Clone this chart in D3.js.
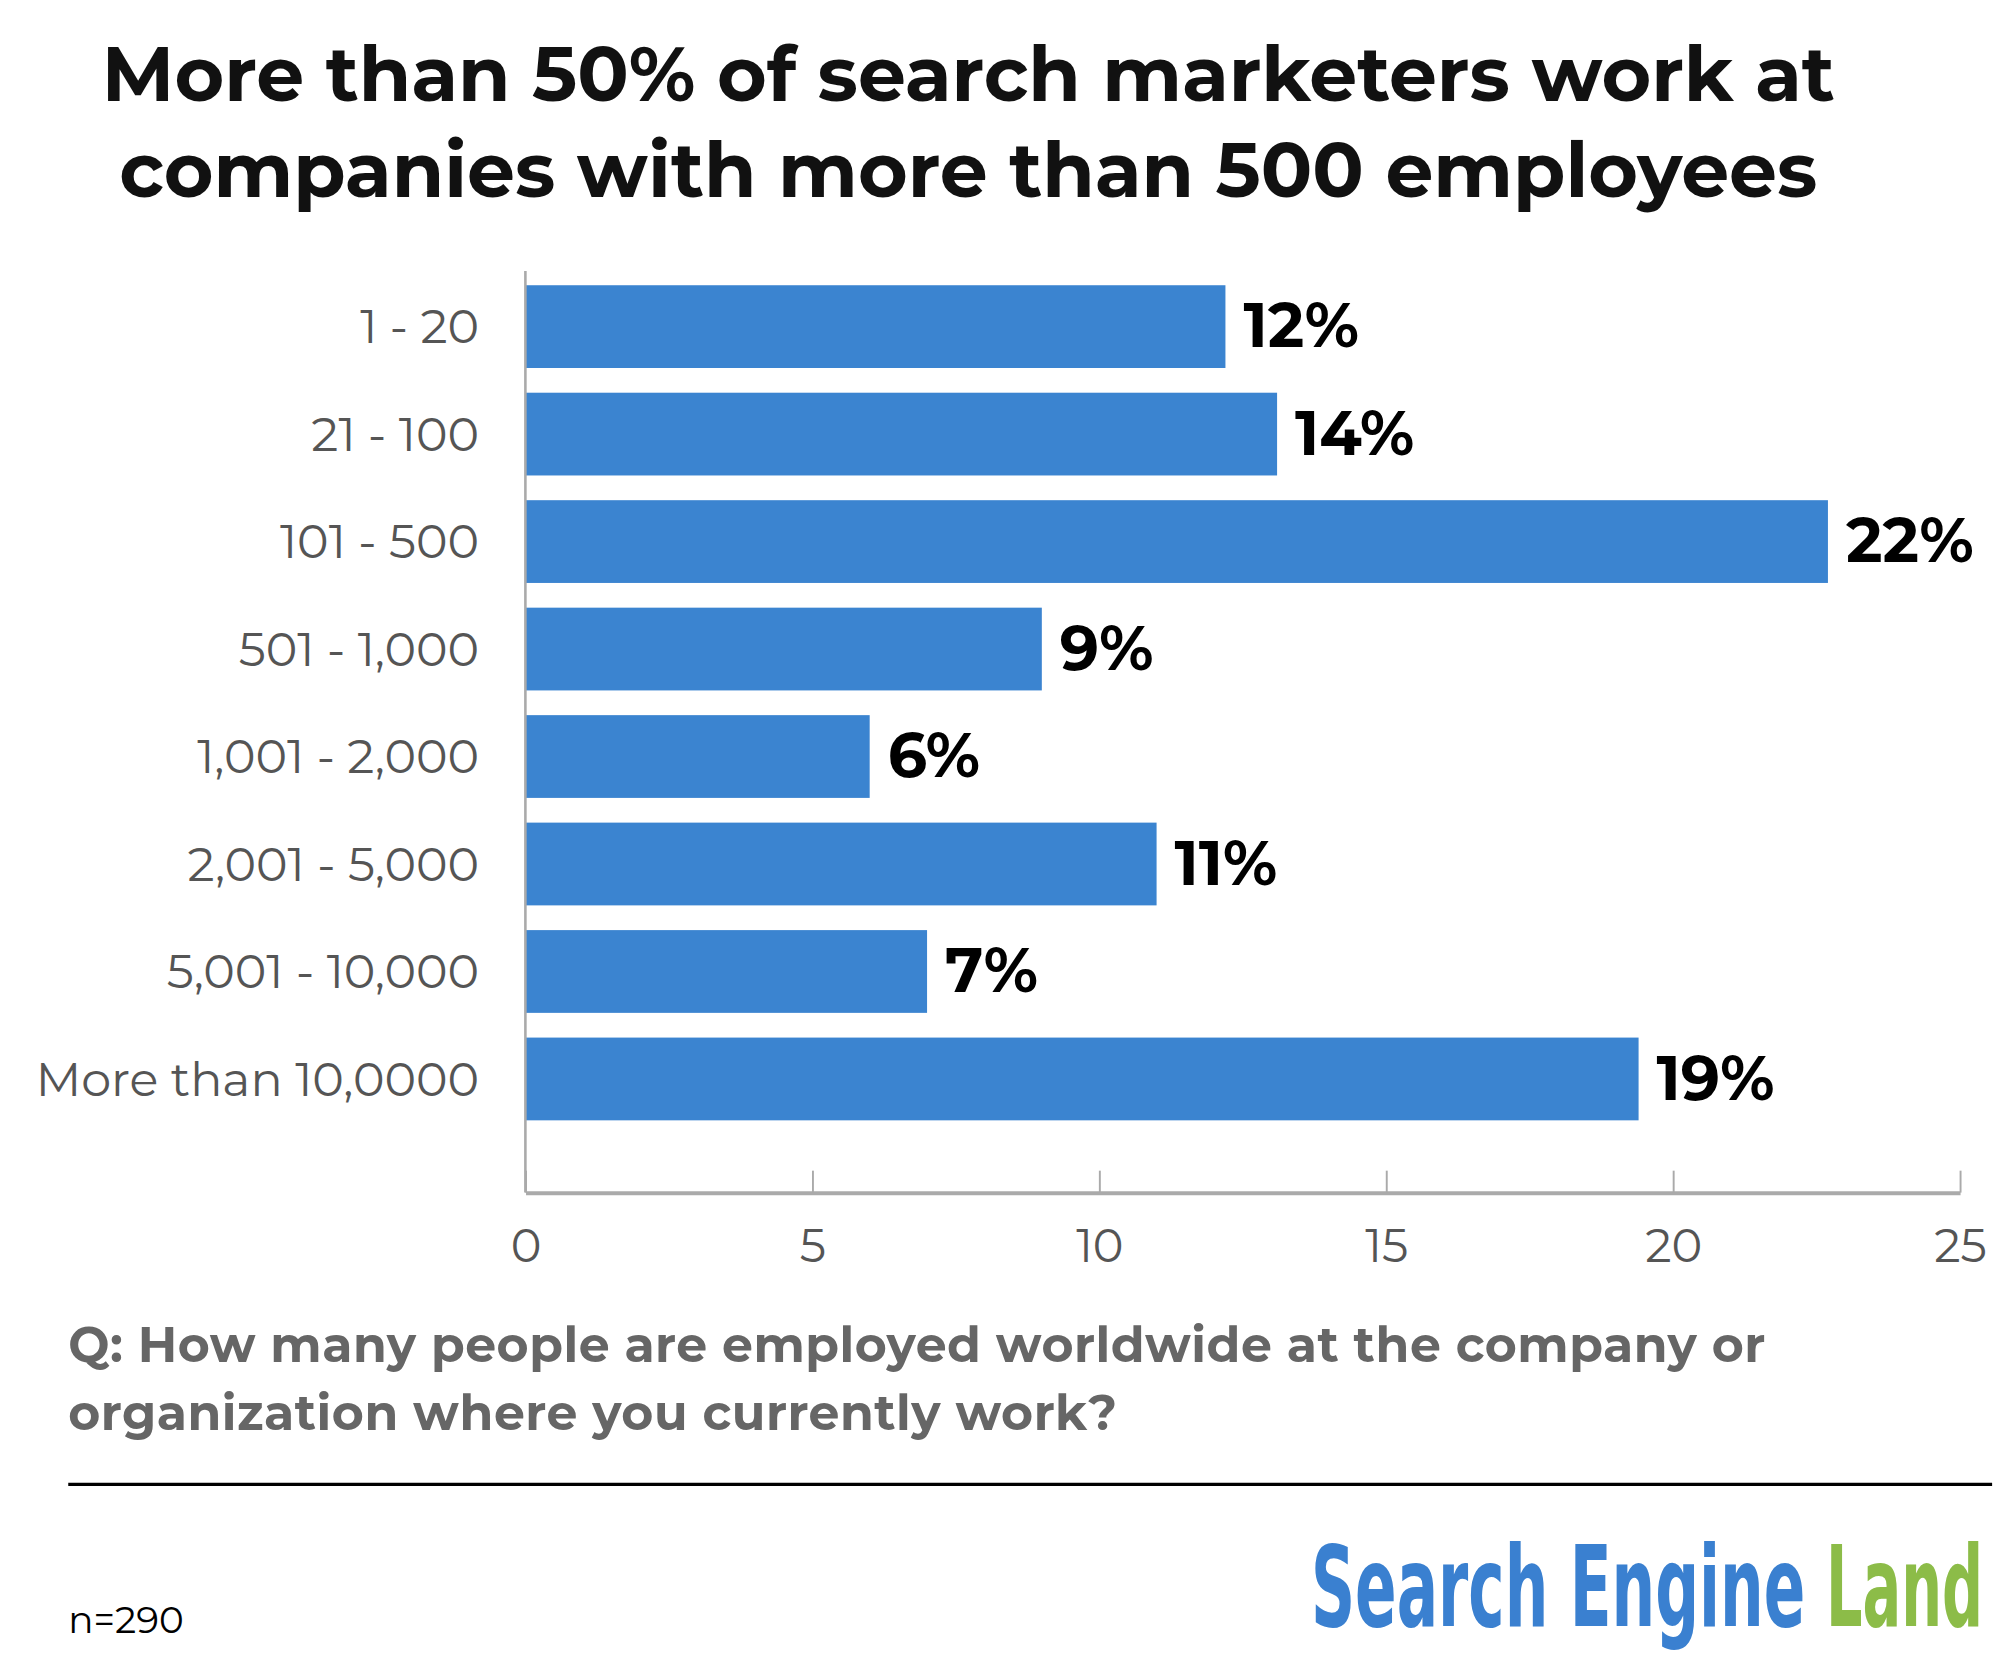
<!DOCTYPE html><html><head><meta charset="utf-8"><script src="https://cdn.jsdelivr.net/npm/d3@7"></script>
<style>body{margin:0;background:#fff}</style></head><body><svg id="c"></svg><script>
const categories=["1 - 20","21 - 100","101 - 500","501 - 1,000","1,001 - 2,000","2,001 - 5,000","5,001 - 10,000","More than 10,0000"];
const values=[12.2,13.1,22.7,9.0,6.0,11.0,7.0,19.4];
const valueLabels=["12%","14%","22%","9%","6%","11%","7%","19%"];
const xTicks=[0,5,10,15,20,25];
const W=1564,H=1290;
const svg=d3.select("#c").attr("width",2014).attr("height",1665).attr("viewBox",`0 0 ${W} ${H}`).attr("preserveAspectRatio","none");
const F="Montserrat, 'Open Sans', sans-serif";
svg.append("rect").attr("width",W).attr("height",H).attr("fill","#fff");
const title=svg.append("text").attr("x",752).attr("text-anchor","middle").attr("font-family",F).attr("font-weight",700).attr("font-size",59).attr("fill","#111");
title.append("tspan").attr("x",752).attr("y",78).text("More than 50% of search marketers work at");
title.append("tspan").attr("x",752).attr("y",153).text("companies with more than 500 employees");
const x=d3.scaleLinear().domain([0,25]).range([408,1522]);
const y=d3.scaleBand().domain(categories).range([211,878]).paddingInner(0.23).paddingOuter(0.12);
svg.selectAll("rect.bar").data(values).join("rect").attr("class","bar").attr("x",x(0)).attr("y",(d,i)=>y(categories[i])).attr("width",d=>x(d)-x(0)).attr("height",y.bandwidth()).attr("fill","#3b84d0");
svg.selectAll("text.val").data(values).join("text").attr("class","val").attr("x",d=>x(d)+14).attr("y",(d,i)=>y(categories[i])+y.bandwidth()/2+16).attr("font-family",F).attr("font-weight",700).attr("font-size",48).attr("fill","#000").text((d,i)=>valueLabels[i]);
svg.selectAll("text.cat").data(categories).join("text").attr("class","cat").attr("x",372).attr("y",d=>y(d)+y.bandwidth()/2+13).attr("text-anchor","end").attr("font-family",F).attr("font-size",37).attr("fill","#555").text(d=>d);
const ax=svg.append("g").attr("transform","translate(0,924)").call(d3.axisBottom(x).tickValues(xTicks).tickSize(-17).tickPadding(0).tickSizeOuter(0));
ax.select(".domain").attr("stroke","#aaa").attr("stroke-width",3);
ax.selectAll(".tick line").attr("stroke","#aaa").attr("stroke-width",1.5);
ax.selectAll(".tick text").attr("y",28).attr("font-family",F).attr("font-size",36).attr("fill","#555");
svg.append("line").attr("x1",408).attr("x2",408).attr("y1",210).attr("y2",924).attr("stroke","#aaa").attr("stroke-width",2);
const q=svg.append("text").attr("font-family",F).attr("font-weight",700).attr("font-size",38).attr("letter-spacing",0.4).attr("fill","#666");
q.append("tspan").attr("x",53).attr("y",1055).text("Q: How many people are employed worldwide at the company or");
q.append("tspan").attr("x",53).attr("y",1108).text("organization where you currently work?");
svg.append("line").attr("x1",53).attr("x2",1547).attr("y1",1150).attr("y2",1150).attr("stroke","#000").attr("stroke-width",2.5);
svg.append("text").attr("x",53).attr("y",1265).attr("font-family",F).attr("font-size",29).attr("fill","#000").text("n=290");
const LF="'Liberation Sans Narrow','DejaVu Sans Condensed',sans-serif";
const logo=svg.append("g").attr("transform","translate(1018,1260) scale(1,1.8)");
logo.append("text").attr("x",0).attr("y",0).attr("font-family",LF).attr("font-weight",700).attr("font-size",48).attr("textLength",384).attr("lengthAdjust","spacingAndGlyphs").attr("fill","#3a80d0").text("Search Engine");
logo.append("text").attr("x",400).attr("y",0).attr("font-family",LF).attr("font-weight",700).attr("font-size",48).attr("textLength",122).attr("lengthAdjust","spacingAndGlyphs").attr("fill","#8cbc48").text("Land");
</script></body></html>
